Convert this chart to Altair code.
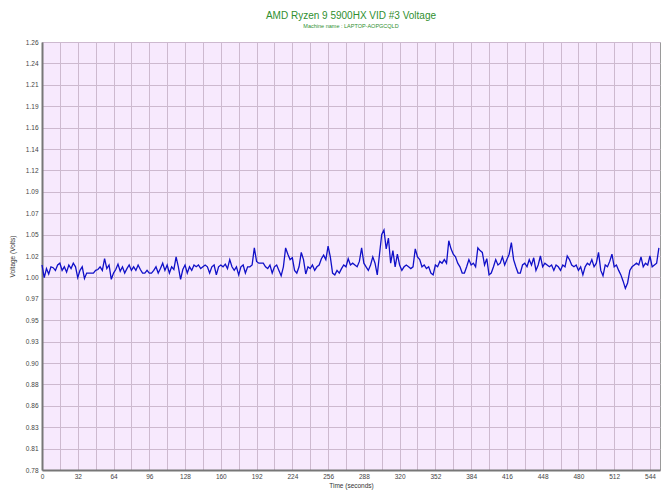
import altair as alt
import pandas as pd

title_text = "AMD Ryzen 9 5900HX VID #3 Voltage"
subtitle_text = "Machine name : LAPTOP-AOPGCQLD"

# samples every 2 seconds
voltage = [
    1.012, 0.998, 1.008, 1.002, 1.010, 1.009, 1.006, 1.012, 1.014, 1.006,
    1.010, 1.004, 1.012, 1.008, 1.014, 1.010, 0.998, 1.006, 1.010, 0.997,
    1.003, 1.003, 1.003, 1.003, 1.006, 1.007, 1.010, 1.006, 1.019, 1.008,
    1.012, 0.996, 1.003, 1.007, 1.013, 1.005, 1.010, 1.003, 1.008, 1.012,
    1.006, 1.010, 1.006, 1.012, 1.007, 1.003, 1.003, 1.006, 1.003, 1.003,
    1.006, 1.010, 1.003, 1.008, 1.014, 1.006, 1.012, 1.003, 1.010, 1.007,
    1.021, 1.010, 0.996, 1.007, 1.012, 1.003, 1.010, 1.006, 1.012, 1.010,
    1.012, 1.008, 1.010, 1.012, 1.010, 1.003, 1.010, 1.012, 1.001, 1.010,
    1.012, 1.010, 1.013, 1.008, 1.018, 1.010, 1.006, 1.010, 1.001, 1.010,
    1.012, 1.003, 1.010, 1.010, 1.012, 1.031, 1.016, 1.014, 1.014, 1.014,
    1.010, 1.008, 1.012, 1.003, 1.010, 1.012, 1.006, 1.000, 1.010, 1.031,
    1.024, 1.018, 1.020, 1.006, 1.003, 1.010, 1.026, 1.018, 1.002, 1.010,
    1.008, 1.012, 1.006, 1.010, 1.012, 1.019, 1.023, 1.018, 1.033, 1.021,
    1.003, 1.001, 1.006, 1.003, 1.008, 1.012, 1.010, 1.019, 1.012, 1.014,
    1.012, 1.010, 1.016, 1.031, 1.014, 1.010, 1.006, 1.012, 1.021, 1.014,
    1.001, 1.024, 1.046, 1.051, 1.030, 1.042, 1.014, 1.028, 1.010, 1.024,
    1.012, 1.006, 1.010, 1.012, 1.010, 1.008, 1.010, 1.030, 1.021, 1.018,
    1.010, 1.012, 1.008, 1.010, 1.003, 1.001, 1.012, 1.010, 1.016, 1.014,
    1.018, 1.014, 1.039, 1.030, 1.024, 1.021, 1.014, 1.010, 1.003, 1.003,
    1.010, 1.018, 1.012, 1.014, 1.010, 1.031, 1.028, 1.026, 1.012, 1.019,
    1.001, 1.003, 1.010, 1.018, 1.012, 1.014, 1.021, 1.012, 1.018, 1.024,
    1.037, 1.018, 1.010, 1.003, 1.003, 1.012, 1.014, 1.010, 1.018, 1.012,
    1.020, 1.006, 1.012, 1.022, 1.010, 1.014, 1.012, 1.010, 1.012, 1.006,
    1.012, 1.010, 1.006, 1.012, 1.010, 1.022, 1.018, 1.012, 1.010, 1.012,
    1.006, 1.010, 1.001, 1.010, 1.014, 1.012, 1.018, 1.010, 1.014, 1.026,
    1.006, 1.000, 1.012, 1.010, 1.016, 1.024, 1.010, 1.012, 1.006, 1.001,
    0.994, 0.986, 0.992, 1.006, 1.010, 1.012, 1.014, 1.012, 1.021, 1.010,
    1.014, 1.012, 1.022, 1.010, 1.012, 1.014, 1.031,
]
time_s = [2 * i for i in range(len(voltage))]

y_ticks = [0.784, 0.8078, 0.8316, 0.8554, 0.8792, 0.903, 0.9268, 0.9506,
           0.9744, 0.9982, 1.022, 1.0458, 1.0696, 1.0934, 1.1172, 1.141,
           1.1648, 1.1886, 1.2124, 1.2362, 1.26]
x_ticks = list(range(0, 545, 16))

df = pd.DataFrame({"t": time_s, "v": voltage})

font = "Liberation Sans"

chart = alt.Chart(df).mark_line(color="#1010c8", strokeWidth=1.3).encode(
    x=alt.X("t:Q", title="Time (seconds)",
            scale=alt.Scale(domain=[0, 553], nice=False, zero=False),
            axis=alt.Axis(values=x_ticks, format="d",
                          labelExpr="datum.value % 32 == 0 ? datum.label : ''",
                          ticks=False, labelPadding=3, titlePadding=3,
                          labelFontSize=6.5, titleFontSize=6.5,
                          labelColor="#444444", titleColor="#333333",
                          titleFontWeight="normal",
                          gridColor="#cdb9cf", gridOpacity=1, gridWidth=1,
                          domainColor="#777777", domainWidth=2,
                          labelFont=font, titleFont=font, labelFlush=False)),
    y=alt.Y("v:Q", title="Voltage (Volts)",
            scale=alt.Scale(domain=[0.784, 1.26], nice=False, zero=False),
            axis=alt.Axis(values=y_ticks, format=".2f", ticks=False,
                          labelPadding=4, titlePadding=10,
                          labelFontSize=6.5, titleFontSize=6.5,
                          labelColor="#444444", titleColor="#333333",
                          titleFontWeight="normal",
                          gridColor="#cdb9cf", gridOpacity=1, gridWidth=1,
                          domainColor="#777777", domainWidth=2,
                          labelFont=font, titleFont=font)),
).properties(
    width=618,
    height=428,
    autosize=alt.AutoSizeParams(type="none"),
    padding={"left": 34, "top": 34, "right": 2, "bottom": 22},
    background="#ffffff",
    title=alt.TitleParams(
        text=title_text, subtitle=subtitle_text,
        color="#2f8f2f", subtitleColor="#2f8f2f",
        fontSize=10, subtitleFontSize=5.5,
        font=font, subtitleFont=font, fontWeight="normal",
        anchor="middle", offset=10, subtitlePadding=3,
    ),
).configure_view(
    fill="#f7e9fd", stroke="#9a9a9a", strokeWidth=1,
)

chart.save("out.html", embed_options={"renderer": "svg", "actions": False})
